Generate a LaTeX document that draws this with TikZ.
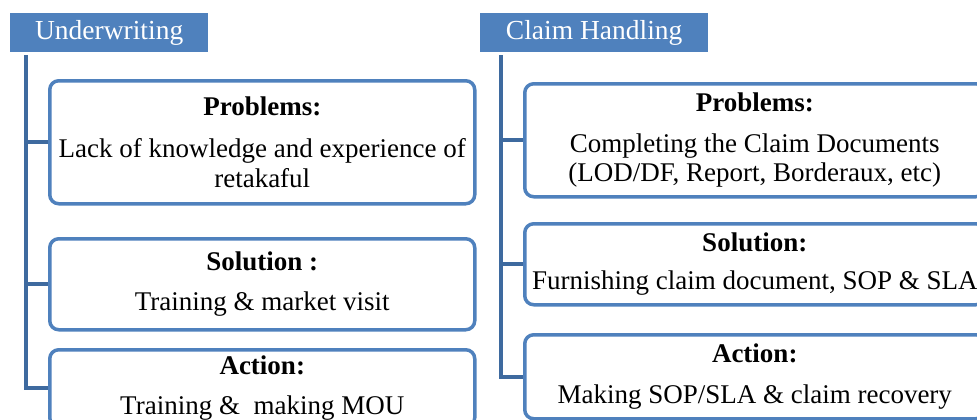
\documentclass[tikz,border=0pt]{standalone}
\usepackage{fontspec}
\setmainfont{Liberation Serif}
\newfontfamily\timesfont{Liberation Serif}
\usepackage{tikz}
\usetikzlibrary{positioning, calc}
\definecolor{headblue}{HTML}{4F81BD}
\definecolor{edgeblue}{HTML}{4F81BD}
\definecolor{trunkblue}{HTML}{3E6A9F}
\tikzset{
    headbox/.style={fill=headblue, text=white, anchor=north west,
        minimum height=39pt, inner sep=0pt,
        font=\timesfont\fontsize{27.5}{30}\selectfont}, % preset style for a section title
    infobox/.style={draw=edgeblue, line width=3.5pt, rounded corners=9pt,
        fill=white, align=center, anchor=north west, inner sep=0pt,
        font=\timesfont\fontsize{27}{29.5}\selectfont}, % preset style for a text box
    trunk/.style={draw=trunkblue, line width=4pt}, % preset style for the tree lines
}

\begin{document}
\begin{tikzpicture}[x=1pt, y=-1pt]
        \useasboundingbox (0, 0) rectangle (977, 420);
        \clip (0, 0) rectangle (977, 420);
        \begin{scope}
            \node[headbox, minimum width=198pt] (uw) at (10, 13) {Underwriting};
            \node[infobox, minimum width=425pt, minimum height=123pt] (lprob) at (48, 79)
                {\textbf{Problems:}\\[13pt] Lack of knowledge and experience of\\ retakaful};
            \node[infobox, minimum width=425pt, minimum height=91pt] (lsol) at (48, 237)
                {\textbf{Solution :}\\[11pt] Training \& market visit};
            \node[infobox, minimum width=425pt, minimum height=77pt] (lact) at (48, 348)
                {\textbf{Action:}\\[11pt] Training \&\ \ making MOU};
            \coordinate (ltop) at ($(uw.south west) + (15.5, 3)$);
            \draw[trunk] (ltop) |- (lact.west);
            \draw[trunk] (ltop |- lprob.west) -- (lprob.west);
            \draw[trunk] (ltop |- lsol.west) -- (lsol.west);
        \end{scope}
        \begin{scope}
            \node[headbox, minimum width=228pt] (ch) at (480, 13) {Claim Handling};
            \node[infobox, minimum width=460pt, minimum height=113pt] (rprob) at (523, 82)
                {\textbf{Problems:}\\[11pt] Completing the Claim Documents\\ (LOD/DF, Report, Borderaux, etc)};
            \node[infobox, minimum width=460pt, minimum height=81pt] (rsol) at (523, 222)
                {\textbf{Solution:}\\[9pt] Furnishing claim document, SOP \& SLA};
            \node[infobox, minimum width=460pt, minimum height=84pt] (ract) at (523, 333)
                {\textbf{Action:}\\[11pt] Making SOP/SLA \& claim recovery};
            \coordinate (rtop) at ($(ch.south west) + (21, 3)$);
            \draw[trunk] (rtop) |- (ract.west);
            \draw[trunk] (rtop |- rprob.west) -- (rprob.west);
            \draw[trunk] (rtop |- rsol.west) -- (rsol.west);
        \end{scope}
    \end{tikzpicture}
\end{document}
